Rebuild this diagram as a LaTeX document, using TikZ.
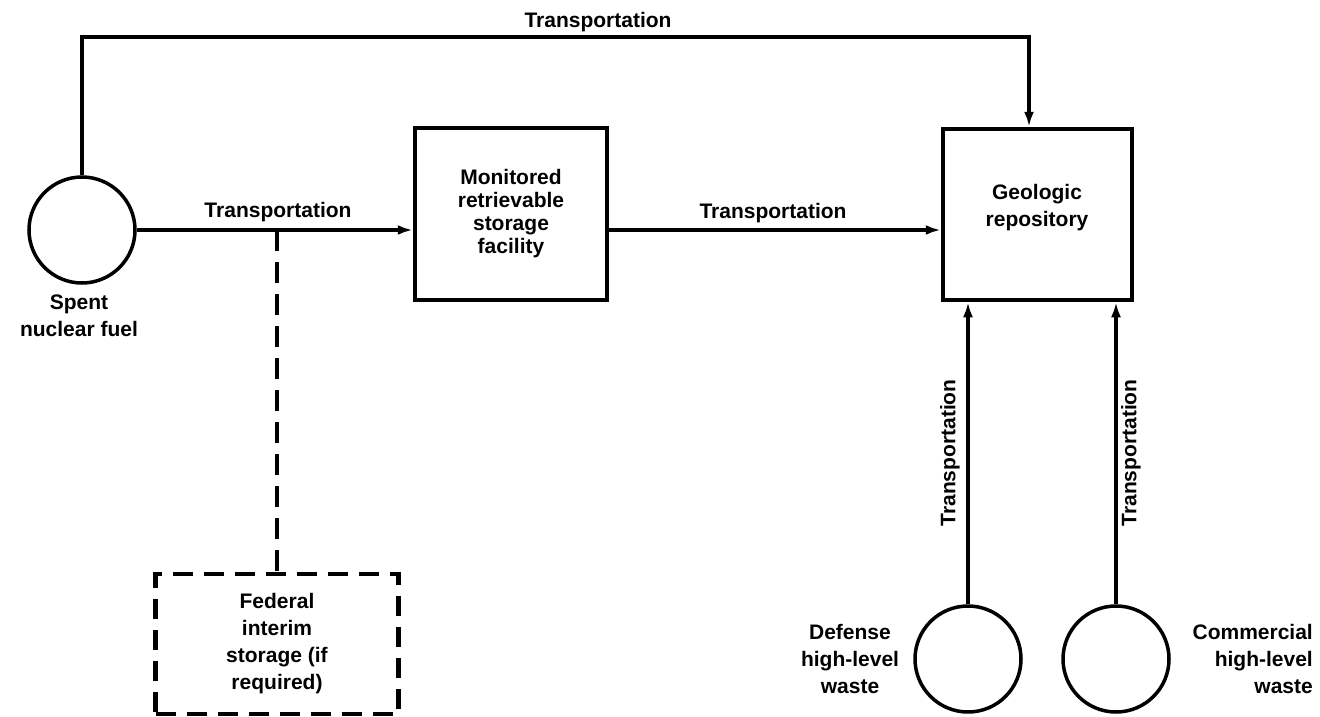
\documentclass[tikz,border=0pt]{standalone}
\usepackage{fontspec}
\setmainfont{Liberation Sans}
\usetikzlibrary{arrows.meta}
\begin{document}
\begin{tikzpicture}[x=1pt,y=-1pt,
  every node/.style={font=\fontsize{21}{27}\selectfont\bfseries},
  lbl/.style={inner sep=0pt,align=center},
  src/.style={draw,circle,line width=3.5pt,minimum size=106pt,inner sep=0pt},
  box/.style={draw,rectangle,line width=4.5pt,inner sep=0pt,align=center},
  flow/.style={line width=4pt,-{Latex[length=15pt,width=10pt]}},
  link/.style={line width=4.5pt,dash pattern=on 21pt off 11pt}]
\useasboundingbox (0,0) rectangle (1320,717);

% sources and facilities
\node[src] (spent) at (82,230) {};
\node[lbl] (spentlbl) at (79,316) {Spent\\nuclear fuel};

\node[box,minimum width=192pt,minimum height=172pt,
      font=\fontsize{21}{23}\selectfont\bfseries] (mrs) at (511,214)
  {Monitored\\retrievable\\storage\\facility};

\node[box,minimum width=189pt,minimum height=171pt] (geo) at (1037.5,214.5) {};
\node[lbl] (geolbl) at (1037,208) {Geologic\\repository};

\node[box,dash pattern=on 20pt off 11pt,minimum width=243pt,minimum height=140pt]
  (fed) at (277,644) {Federal\\interim\\storage (if\\required)};

\node[src] (def) at (968,659) {};
\node[lbl] (deflbl) at (850,659) {Defense\\high-level\\waste};
\node[src] (com) at (1116,659) {};
\node[lbl,anchor=east,align=right] (comlbl) at (1313,659) {Commercial\\high-level\\waste};

% routing points
\coordinate (topright) at (1029,37);
\coordinate (split) at (fed.north |- spent.east);

% connectors
\draw[flow] (spent.north) |- (topright) -- (topright |- geo.north);
\draw[flow] (spent.east) -- (spent.east -| mrs.west);
\draw[flow] (mrs.east |- spent.east) -- (geo.west |- spent.east);
\draw[link] (split) -- (fed.north);
\draw[flow] (def.north) -- (def.north |- geo.south);
\draw[flow] (com.north) -- (com.north |- geo.south);

% connector labels
\node[lbl,anchor=base] (ttop) at (598,28) {Transportation};
\node[lbl] (tleft) at (278,212) {Transportation};
\node[lbl] (tmid) at (773,213) {Transportation};
\node[lbl,rotate=90] (tdef) at (950,453) {Transportation};
\node[lbl,rotate=90] (tcom) at (1131,453) {Transportation};
\end{tikzpicture}
\end{document}
